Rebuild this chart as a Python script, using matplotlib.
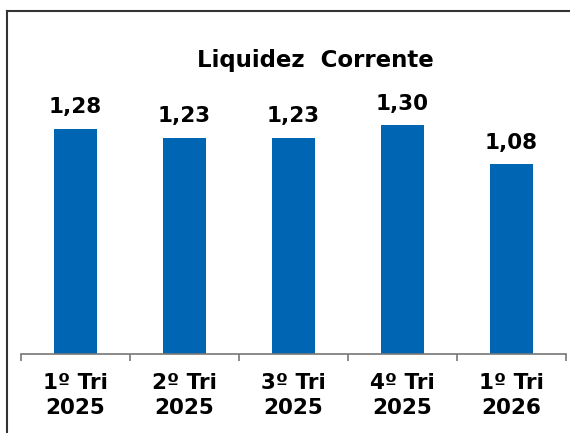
import matplotlib
matplotlib.use('Agg')
import matplotlib.pyplot as plt
from matplotlib.lines import Line2D

categories = ['1º Tri\n2025', '2º Tri\n2025', '3º Tri\n2025', '4º Tri\n2025', '1º Tri\n2026']
values = [1.28, 1.23, 1.23, 1.30, 1.08]
labels = ['1,28', '1,23', '1,23', '1,30', '1,08']

W, H = 570, 433
fig = plt.figure(figsize=(W / 100, H / 100), dpi=100)
plt.rcParams['font.family'] = ['DejaVu Sans']

# axes placed in pixel terms
ax = fig.add_axes([21 / W, 79 / H, 545 / W, 281.6 / H])
x = list(range(len(values)))
ax.bar(x, values, width=0.4, color='#0066b3')
ax.set_xlim(-0.5, len(values) - 0.5)
ax.set_ylim(0, 1.6)

for i, v in enumerate(values):
    ax.annotate(labels[i], (i, v), xytext=(0, 11), textcoords='offset points',
                ha='center', va='baseline', fontsize=15.5, fontweight='bold')

for s in ['top', 'right', 'left']:
    ax.spines[s].set_visible(False)
ax.spines['bottom'].set_color('#777777')
ax.spines['bottom'].set_linewidth(1.2)
ax.set_yticks([])

ax.set_xticks(x)
ax.set_xticklabels(categories, fontsize=15.5, fontweight='bold', linespacing=1.35)
ax.tick_params(axis='x', which='major', length=0, pad=13.5)
ax.set_xticks([i - 0.5 for i in range(len(values) + 1)], minor=True)
ax.tick_params(axis='x', which='minor', length=5, width=1.2, color='#777777')

fig.text(315 / W, (H - 67) / H, 'Liquidez  Corrente', ha='center', va='baseline',
         fontsize=16.5, fontweight='bold')

# outer frame (left and top edges only visible)
fig.add_artist(Line2D([6.5 / W, 6.5 / W], [0, (H - 10.5) / H], color='#333333', lw=1.5,
                      transform=fig.transFigure))
fig.add_artist(Line2D([6.5 / W, 1], [(H - 10.5) / H, (H - 10.5) / H], color='#333333', lw=1.5,
                      transform=fig.transFigure))

fig.savefig('out.png', dpi=100)
